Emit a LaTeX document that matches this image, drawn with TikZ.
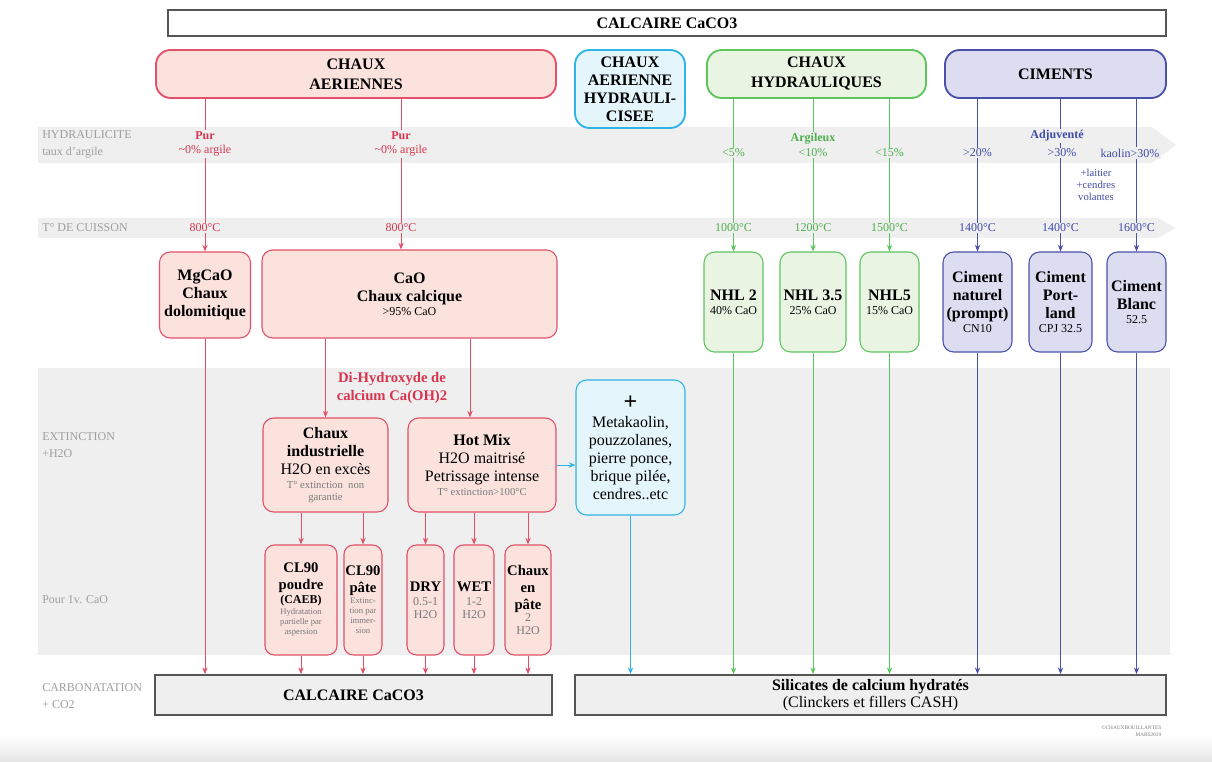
\documentclass[tikz,border=0pt]{standalone}
\usepackage{fontspec}
\setmainfont{Liberation Serif}
\usepackage{xcolor}
\definecolor{rouge}{HTML}{E2506A}
\definecolor{rougetexte}{HTML}{D9344F}
\definecolor{rosefond}{HTML}{FBE2DD}
\definecolor{cyanb}{HTML}{2FB4E6}
\definecolor{cyanfond}{HTML}{E4F5FC}
\definecolor{vert}{HTML}{5EC45E}
\definecolor{verttexte}{HTML}{4DB04D}
\definecolor{vertfond}{HTML}{E9F4E3}
\definecolor{bleu}{HTML}{4B50A8}
\definecolor{bleutexte}{HTML}{3F4AA8}
\definecolor{bleufond}{HTML}{DCDDF0}
\definecolor{grisfond}{HTML}{EFEFEF}
\definecolor{grislegende}{HTML}{9E9E9E}
\definecolor{gristexte}{HTML}{7A7A7A}
\definecolor{gristrait}{HTML}{555555}
\usetikzlibrary{arrows.meta,positioning}
\newcommand{\grand}{\fontsize{12}{13.5}\selectfont}
\newcommand{\moyen}{\fontsize{9}{11}\selectfont}
\newcommand{\petit}{\fontsize{8}{9}\selectfont}
\newcommand{\mini}{\fontsize{6.5}{7.5}\selectfont}

\begin{document}
\begin{tikzpicture}[x=0.75pt,y=-0.75pt,
  entete/.style={draw,line width=1.4pt,rounded corners=11pt,align=center,font=\grand\bfseries,inner sep=1pt},
  boite/.style={draw,line width=0.8pt,rounded corners=8pt,align=center,inner sep=1pt,font=\grand},
  nhl/.style={boite,draw=vert,fill=vertfond,minimum height=75pt},
  ciment/.style={boite,draw=bleu,fill=bleufond,minimum height=75pt},
  petiteboite/.style={boite,draw=rouge,fill=rosefond,minimum height=82.5pt,rounded corners=7pt,font=\fontsize{11}{12.5}\selectfont},
  socle/.style={draw=gristrait,line width=1.3pt,fill=grisfond,align=center,font=\grand,minimum height=30pt},
  legende/.style={anchor=west,align=left,font=\fontsize{9}{12.5}\selectfont,text=grislegende,inner sep=0pt},
  etiq/.style={font=\moyen,align=center,inner sep=1pt,fill=grisfond},
  fl/.style={-{Stealth[length=5pt,width=4pt]},line width=0.7pt}]

\useasboundingbox (0,0) rectangle (1212,762);
% fonds
\shade[top color=white,bottom color=black!10] (0,735) rectangle (1212,762);
\fill[grisfond] (38,127) -- (1152,127) -- (1176,145) -- (1152,163) -- (38,163) -- cycle;
\fill[grisfond] (38,218) -- (1158,218) -- (1176,228) -- (1158,238) -- (38,238) -- cycle;
\fill[grisfond] (38,368) rectangle (1170,655);

% legendes de gauche
\node[legende] (lhyd) at (42,144) {HYDRAULICITE\\taux d'argile};
\node[legende] (lcui) at (42,228) {T° DE CUISSON};
\node[legende] (lext) at (42,445) {EXTINCTION\\+H2O};
\node[legende] (lvol) at (42,600) {Pour 1v. CaO};
\node[legende] (lcarb) at (42,696) {CARBONATATION\\+ CO2};

% titre
\node[draw=gristrait,line width=1.3pt,fill=white,minimum width=748.5pt,minimum height=19.5pt,font=\grand\bfseries] (calctop) at (667,23) {CALCAIRE CaCO3};

% familles
\node[entete,draw=rouge,fill=rosefond,minimum width=300pt,minimum height=36pt] (aer) at (356,74) {CHAUX\\[1.5pt]AERIENNES};
\node[entete,draw=cyanb,fill=cyanfond,minimum width=82.5pt,minimum height=58.5pt] (ahy) at (630,89) {CHAUX\\AERIENNE\\HYDRAULI-\\CISEE};
\node[entete,draw=vert,fill=vertfond,minimum width=164.25pt,minimum height=36pt] (hyd) at (816.5,74) {CHAUX\\[1.5pt]HYDRAULIQUES};
\node[entete,draw=bleu,fill=bleufond,minimum width=165.75pt,minimum height=36pt] (cim) at (1055.5,74) {CIMENTS};

% chaux vives
\node[boite,draw=rouge,fill=rosefond,minimum width=68.25pt,minimum height=64.5pt,font=\grand\bfseries] (mg) at (205,295) {MgCaO\\Chaux\\dolomitique};
\node[boite,draw=rouge,fill=rosefond,minimum width=221.25pt,minimum height=66pt] (cao) at (409.5,294) {\textbf{CaO}\\\textbf{Chaux calcique}\\[-3pt]{\moyen >95\% CaO}};
\node[nhl,minimum width=44.25pt] (nhla) at (733.5,302) {\textbf{NHL 2}\\[-3pt]{\moyen 40\% CaO}};
\node[nhl,minimum width=49.5pt] (nhlb) at (813,302) {\textbf{NHL 3.5}\\[-3pt]{\moyen 25\% CaO}};
\node[nhl,minimum width=44.25pt] (nhlc) at (889.5,302) {\textbf{NHL5}\\[-3pt]{\moyen 15\% CaO}};
\node[ciment,minimum width=51.75pt] (cnat) at (977.5,302) {\textbf{Ciment}\\\textbf{naturel}\\\textbf{(prompt)}\\[-3pt]{\moyen CN10}};
\node[ciment,minimum width=47.25pt] (cport) at (1060.5,302) {\textbf{Ciment}\\\textbf{Port-}\\\textbf{land}\\[-3pt]{\moyen CPJ 32.5}};
\node[ciment,minimum width=44.25pt] (cbl) at (1136.5,302) {\textbf{Ciment}\\\textbf{Blanc}\\[-3pt]{\moyen 52.5}};

% extinction
\node[font=\fontsize{11}{14}\selectfont\bfseries,text=rougetexte,align=center] (dihyd) at (392,388) {Di-Hydroxyde de\\calcium Ca(OH)2};
\node[boite,draw=rouge,fill=rosefond,minimum width=93.75pt,minimum height=70.5pt] (cind) at (325.5,465) {\textbf{Chaux}\\\textbf{industrielle}\\H2O en excès\\[-3pt]{\petit\color{gristexte}T° extinction\enspace non}\\[-5pt]{\petit\color{gristexte}garantie}};
\node[boite,draw=rouge,fill=rosefond,minimum width=111pt,minimum height=70.5pt] (hmix) at (482,465) {\textbf{Hot Mix}\\H2O maitrisé\\Petrissage intense\\[-3pt]{\petit\color{gristexte}T° extinction>100°C}};
\node[boite,draw=cyanb,fill=cyanfond,minimum width=81.75pt,minimum height=101.25pt] (meta) at (630.5,447.5) {{\fontsize{18}{18}\selectfont\bfseries +}\\Metakaolin,\\pouzzolanes,\\pierre ponce,\\brique pilée,\\cendres..etc};

% pour 1v. CaO
\node[petiteboite,minimum width=54pt] (cla) at (301,600) {\textbf{CL90}\\\textbf{poudre}\\[-2pt]{\moyen\bfseries (CAEB)}\\[-4pt]{\mini\color{gristexte}Hydratation}\\[-5pt]{\mini\color{gristexte}partielle par}\\[-5pt]{\mini\color{gristexte}aspersion}};
\node[petiteboite,minimum width=28.5pt] (clb) at (363,600) {\textbf{CL90}\\\textbf{pâte}\\[-4pt]{\mini\color{gristexte}Extinc-}\\[-5pt]{\mini\color{gristexte}tion par}\\[-5pt]{\mini\color{gristexte}immer-}\\[-5pt]{\mini\color{gristexte}sion}};
\node[petiteboite,minimum width=27.75pt] (dry) at (425.5,600) {\textbf{DRY}\\[-2pt]{\moyen\color{gristexte}0.5-1}\\[-3pt]{\moyen\color{gristexte}H2O}};
\node[petiteboite,minimum width=30pt] (wet) at (474,600) {\textbf{WET}\\[-2pt]{\moyen\color{gristexte}1-2}\\[-3pt]{\moyen\color{gristexte}H2O}};
\node[petiteboite,minimum width=34.5pt] (cep) at (528,600) {\textbf{Chaux}\\\textbf{en}\\\textbf{pâte}\\[-3pt]{\moyen\color{gristexte}2}\\[-3pt]{\moyen\color{gristexte}H2O}};

% carbonatation
\node[socle,minimum width=297.75pt,font=\grand\bfseries] (calc) at (353.5,695) {CALCAIRE CaCO3};
\node[socle,minimum width=443.25pt] (sil) at (870.5,695) {\textbf{Silicates de calcium hydratés}\\[-1pt](Clinckers et fillers CASH)};
\node[font=\fontsize{4}{5}\selectfont,text=gristexte,align=right,anchor=east] (credit) at (1166,731) {©CHAUXBOUILLANTES\\MARS2019};

% liaisons
\coordinate (colb) at (401,0);
\coordinate (colc) at (470,0);
\draw[fl,rouge] (aer.south -| mg) -- (mg.north);
\draw[fl,rouge] (aer.south -| colb) -- (cao.north -| colb);
\draw[fl,rouge] (mg.south) -- (calc.north -| mg);
\draw[fl,rouge] (cao.south -| cind) -- (cind.north);
\draw[fl,rouge] (cao.south -| colc) -- (hmix.north -| colc);
\draw[fl,rouge] (cind.south -| cla) -- (cla.north);
\draw[fl,rouge] (cind.south -| clb) -- (clb.north);
\foreach \n in {dry,wet,cep}
  \draw[fl,rouge] (hmix.south -| \n) -- (\n.north);
\foreach \n in {cla,clb,dry,wet,cep}
  \draw[fl,rouge] (\n.south) -- (calc.north -| \n);
\draw[fl,cyanb] (hmix.east) -- (hmix.east -| meta.west);
\draw[fl,cyanb] (meta.south) -- (sil.north -| meta);
\foreach \n in {nhla,nhlb,nhlc}{
  \draw[fl,vert] (hyd.south -| \n) -- (\n.north);
  \draw[fl,vert] (\n.south) -- (sil.north -| \n);
}
\foreach \n in {cnat,cport,cbl}{
  \draw[fl,bleu] (cim.south -| \n) -- (\n.north);
  \draw[fl,bleu] (\n.south) -- (sil.north -| \n);
}

% etiquettes sur les fleches
\node[etiq,text=rougetexte] (pura) at (205,144) {\textbf{Pur}\\\textasciitilde0\% argile};
\node[etiq,text=rougetexte] (purb) at (401,144) {\textbf{Pur}\\\textasciitilde0\% argile};
\node[etiq,text=rougetexte] (cuia) at (205,228) {800°C};
\node[etiq,text=rougetexte] (cuib) at (401,228) {800°C};
\node[etiq,text=verttexte] (arga) at (733.5,153) {<5\%};
\node[etiq,text=verttexte] (argb) at (813,145) {\textbf{Argileux}\\<10\%};
\node[etiq,text=verttexte] (argc) at (889.5,153) {<15\%};
\node[etiq,text=verttexte] (cuic) at (733.5,228) {1000°C};
\node[etiq,text=verttexte] (cuid) at (813,228) {1200°C};
\node[etiq,text=verttexte] (cuie) at (889.5,228) {1500°C};
\node[etiq,text=bleutexte] (adja) at (977.5,153) {>20\%};
\node[etiq,text=bleutexte] (adjt) at (1057,136) {\textbf{Adjuventé}};
\node[etiq,text=bleutexte] (adjb) at (1062,153) {>30\%};
\node[etiq,text=bleutexte] (adjc) at (1130,153) {kaolin>30\%};
\node[font=\petit,text=bleutexte,align=center] (adjd) at (1096,185) {+laitier\\+cendres\\volantes};
\node[etiq,text=bleutexte] (cuif) at (977.5,228) {1400°C};
\node[etiq,text=bleutexte] (cuig) at (1060.5,228) {1400°C};
\node[etiq,text=bleutexte] (cuih) at (1136.5,228) {1600°C};
\end{tikzpicture}
\end{document}
